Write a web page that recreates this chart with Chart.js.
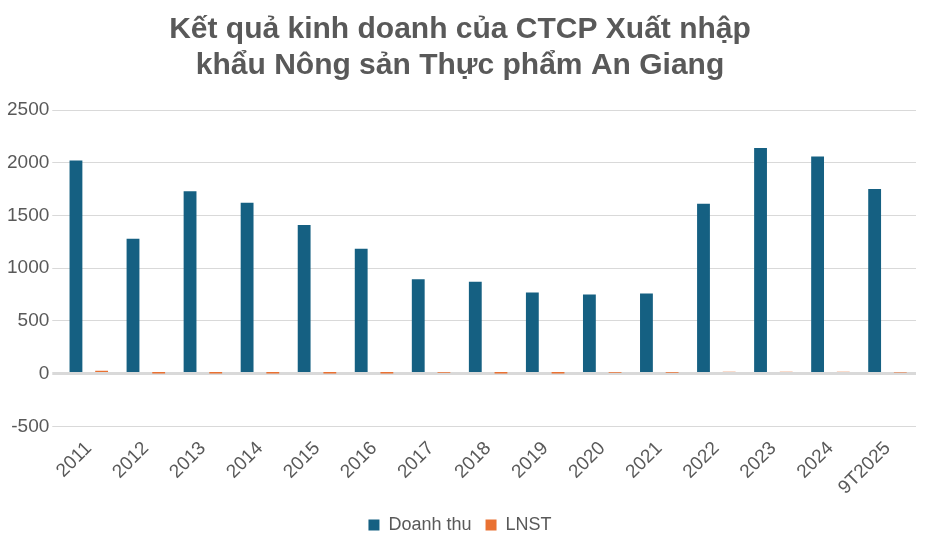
<!DOCTYPE html>
<html>
<head>
<meta charset="utf-8">
<script src="https://cdn.jsdelivr.net/npm/chart.js@4"></script>
<style>
  body { margin: 0; background: #fff; }
  #wrap { width: 932px; height: 552px; }
</style>
</head>
<body>
<div id="wrap"><canvas id="chart"></canvas></div>
<script>
const labels = ["2011", "2012", "2013", "2014", "2015", "2016", "2017", "2018", "2019", "2020", "2021", "2022", "2023", "2024", "9T2025"];
const doanhThu = [2020, 1280, 1730, 1620, 1410, 1185, 895, 870, 770, 750, 760, 1610, 2140, 2060, 1750];
const lnst = [28, 2, 1, 1, 1, 1, 8, 1, 1, 8, 9, 18, 18, 18, 10];

Chart.defaults.font.family = "'Liberation Sans', 'Noto Sans', sans-serif";
Chart.defaults.color = "#595959";

new Chart(document.getElementById("chart"), {
  type: "bar",
  data: {
    labels: labels,
    datasets: [
      { label: "Doanh thu", data: doanhThu, backgroundColor: "#156082", barPercentage: 0.5, categoryPercentage: 0.9 },
      { label: "LNST", data: lnst, backgroundColor: "#e97132", barPercentage: 0.5, categoryPercentage: 0.9 }
    ]
  },
  options: {
    responsive: true,
    maintainAspectRatio: false,
    animation: false,
    layout: { padding: { left: 4, right: 16, top: 0, bottom: 8 } },
    plugins: {
      title: {
        display: true,
        text: ["Kết quả kinh doanh của CTCP Xuất nhập", "khẩu Nông sản Thực phẩm An Giang"],
        color: "#595959",
        font: { size: 30, weight: "bold" },
        lineHeight: 1.5,
        padding: { top: 12, bottom: 26 }
      },
      legend: {
        position: "bottom",
        labels: { boxWidth: 11, boxHeight: 11, font: { size: 18 }, color: "#595959", padding: 14 }
      },
      tooltip: { enabled: false }
    },
    scales: {
      x: {
        grid: { display: false },
        border: { display: false },
        ticks: { maxRotation: 45, minRotation: 45, font: { size: 19 }, color: "#595959" }
      },
      y: {
        min: -500, max: 2500,
        ticks: { stepSize: 500, font: { size: 19 }, color: "#595959", callback: v => String(v) },
        grid: { color: "#d9d9d9", lineWidth: ctx => ctx.tick.value === 0 ? 3 : 1 },
        border: { display: false }
      }
    }
  }
});
</script>
</body>
</html>
